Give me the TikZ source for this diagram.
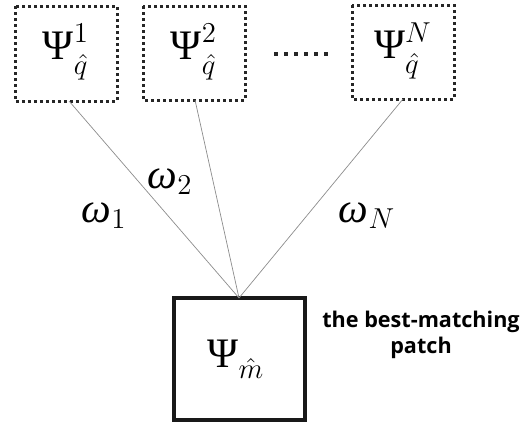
\documentclass[tikz,border=0pt]{standalone}
\usepackage{fontspec}
\setmainfont{Liberation Serif}
\newfontfamily\labelfont{Open Sans}
\newcommand{\PsiT}{\mbox{Ψ}}
\newcommand{\omegaT}{\mbox{\itshape ω}}
% subscript set a little lower than usual
\newcommand{\lowsub}[1]{\raisebox{-2.5pt}{$\scriptstyle #1$}}
\begin{document}
\begin{tikzpicture}[x=0.5pt,y=-0.5pt,
  patch/.style={draw=black!85,line width=1.5pt,dash pattern=on 1.3pt off 1.7pt},
  bestpatch/.style={draw=black!90,line width=1.6pt},
  link/.style={draw=black!45,line width=0.35pt},
  psi/.style={font=\fontsize{21}{24}\selectfont},
  wlabel/.style={font=\fontsize{21}{24}\selectfont},
  note/.style={font=\labelfont\bfseries\fontsize{10.8}{13}\selectfont,align=center}]
\useasboundingbox (0,0) rectangle (529,423);

% candidate patches
\draw[patch] (15,6) rectangle (117,101);
\draw[patch] (143,6) rectangle (245,100);
\draw[patch] (352,5) rectangle (454,99);
\node[psi] (p1) at (66,52) {$\PsiT^{1}_{\lowsub{\hat q}}$};
\node[psi] (p2) at (194,52) {$\PsiT^{2}_{\lowsub{\hat q}}$};
\node[psi] (pN) at (403,51) {$\PsiT^{N}_{\lowsub{\hat q}}$};
\coordinate (b1) at (69,101);
\coordinate (b2) at (195,100);
\coordinate (bN) at (403,99);

% ellipsis between the patches
\foreach \i in {0,...,5}
  \fill[black!85] (276+\i*10-1.6,54-1.6) rectangle ++(3.2,3.2);

% best-matching patch
\draw[bestpatch] (174,298) rectangle (305,420);
\node[psi] (pm) at (236,359) {$\PsiT_{\lowsub{\hat m}}$};
\coordinate (apex) at (239,298);

% weighted links
\draw[link] (b1) -- (apex);
\draw[link] (b2) -- (apex);
\draw[link] (bN) -- (apex);
\node[wlabel] (w1) at (104,216) {$\omegaT_1$};
\node[wlabel] (w2) at (170,182) {$\omegaT_2$};
\node[wlabel] (wN) at (367,216) {$\omegaT_N$};

\node[note] (txt) at (421,335) {the best-matching\\patch};
\end{tikzpicture}
\end{document}
